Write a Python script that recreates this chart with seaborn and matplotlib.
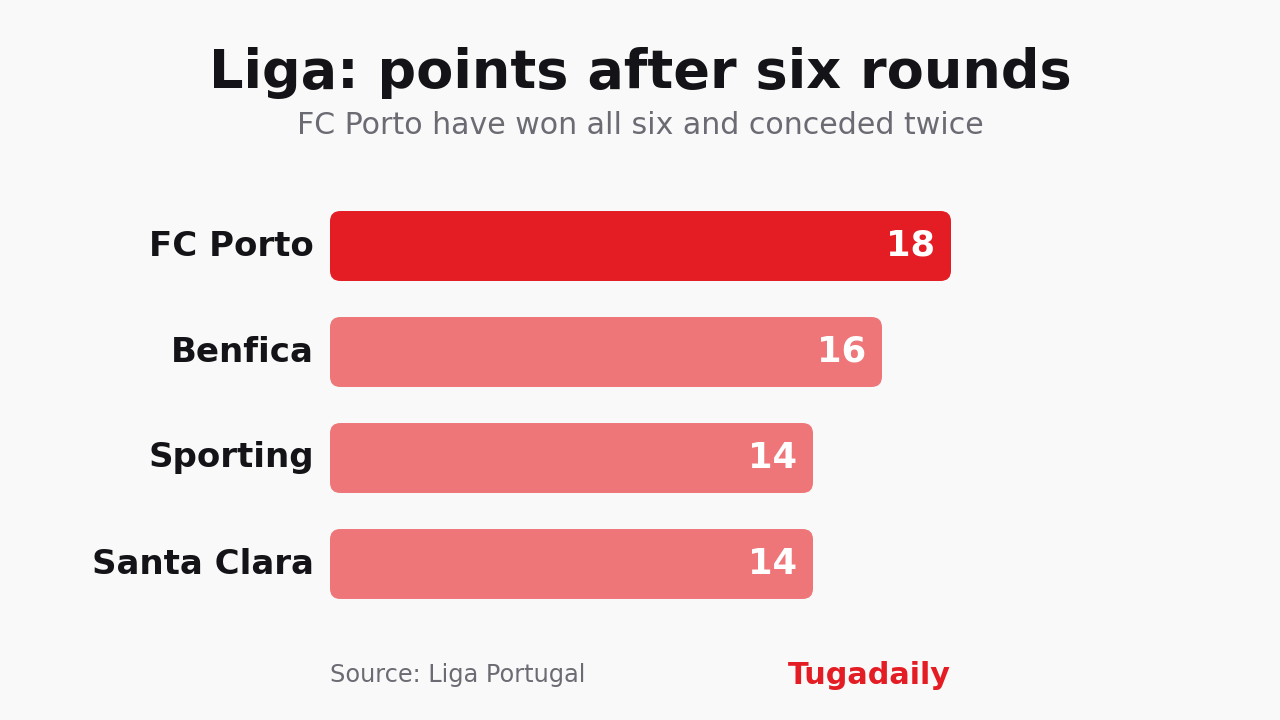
import matplotlib
matplotlib.use("Agg")
import matplotlib.pyplot as plt
import seaborn as sns
import pandas as pd
from matplotlib.patches import FancyBboxPatch

# --- data ---
teams = ["FC Porto", "Benfica", "Sporting", "Santa Clara"]
points = [18, 16, 14, 14]
bar_colors = ["#e41c23", "#ee7679", "#ee7679", "#ee7679"]

BG = "#f9f9f9"
DARK = "#141418"
GREY = "#6b6b73"
RED = "#e41c23"

sns.set_theme(style="white")
plt.rcParams["font.family"] = ["DejaVu Sans"]

df = pd.DataFrame({"team": teams, "points": points})

fig = plt.figure(figsize=(12.8, 7.2), dpi=100, facecolor=BG)
# axes placed so that 0 -> x=330px, 18 -> x=951px
ax = fig.add_axes([330 / 1280, 103 / 720, 621 / 1280, 424 / 720])
ax.set_facecolor(BG)

sns.barplot(data=df, x="points", y="team", hue="team", palette=bar_colors,
            saturation=1, legend=False, orient="h", width=0.66, ax=ax)

ax.set_xlim(0, 18)
ax.set_ylim(3.5, -0.5)

# swap plain bars for rounded ones
aspect = (1 / 106) / (1 / 34.5)
for p in list(ax.patches):
    x0, y0 = p.get_x(), p.get_y()
    w, h = p.get_width(), p.get_height()
    fc = p.get_facecolor()
    p.remove()
    ax.add_patch(FancyBboxPatch((x0, y0), w, h,
                                boxstyle="round,pad=0,rounding_size=0.3",
                                mutation_aspect=aspect,
                                facecolor=fc, edgecolor="none"))

# value labels inside bar ends
for i, v in enumerate(points):
    ax.text(v - 0.46, i, str(v), ha="right", va="center",
            color="white", fontsize=25.5, fontweight="bold")

# team names
ax.set_yticks(range(len(teams)))
ax.set_yticklabels(teams, fontsize=24.5, fontweight="bold", color=DARK,
                   va="center")
ax.tick_params(axis="y", length=0, pad=11.5)
ax.set_xticks([])
ax.set_xlabel("")
ax.set_ylabel("")
sns.despine(ax=ax, left=True, bottom=True)

# title block
fig.text(0.5, 1 - 73 / 720, "Liga: points after six rounds", ha="center",
         va="center", fontsize=39, fontweight="bold", color=DARK)
fig.text(0.5, 1 - 125 / 720, "FC Porto have won all six and conceded twice",
         ha="center", va="center", fontsize=21.6, color=GREY)

# footer
fig.text(330 / 1280, 1 - 675 / 720, "Source: Liga Portugal", ha="left",
         va="center", fontsize=17.3, color=GREY)
fig.text(951 / 1280, 1 - 675 / 720, "Tugadaily", ha="right", va="center",
         fontsize=21.8, fontweight="bold", color=RED)

fig.savefig("out.png", dpi=100, facecolor=BG)
